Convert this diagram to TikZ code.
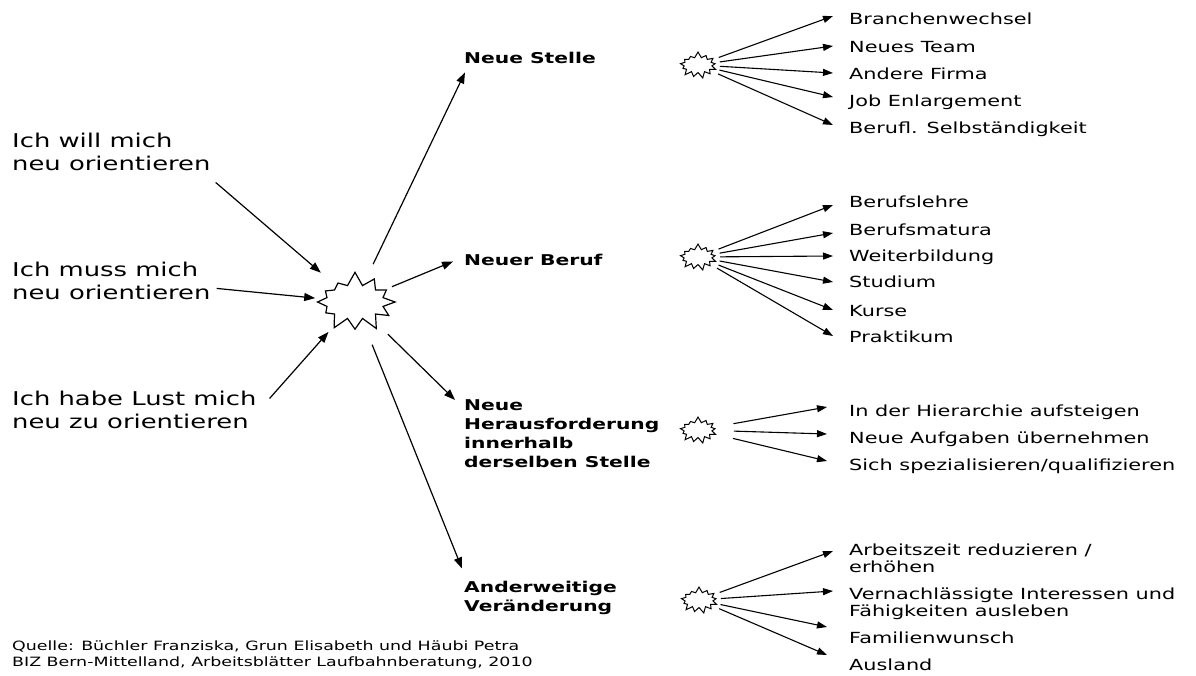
\documentclass[tikz,border=0pt]{standalone}
\usepackage{fontspec}
\setmainfont{DejaVu Sans}[FakeStretch=1.36]
\usetikzlibrary{arrows.meta,shapes.symbols}

\tikzset{
  pfeil/.style={-{Triangle[length=11pt,width=8pt]}, line width=1.2pt},
  klein/.style={-{Triangle[length=10pt,width=7pt]}, line width=1.1pt},
  frage/.style={anchor=base west, inner sep=0pt, align=left, font=\fontsize{19}{23}\selectfont},
  weg/.style={anchor=base west, inner sep=0pt, align=left, font=\fontsize{14.9}{19}\selectfont\bfseries},
  ziel/.style={anchor=base west, inner sep=0pt, align=left, font=\fontsize{15.3}{17}\selectfont},
  quelle/.style={anchor=base west, inner sep=0pt, align=left, font=\fontsize{12.8}{16}\selectfont},
  knall/.style={draw, shape=starburst, inner sep=0pt, starburst points=12,
    starburst point height=14pt, minimum width=86pt, minimum height=62pt,
    line width=1.2pt, random starburst=7},
  knallchen/.style={knall, starburst points=13, starburst point height=6pt,
    minimum width=40pt, minimum height=27pt, line width=1pt}
}

\begin{document}
\begin{tikzpicture}[x=1pt,y=-1pt]
  \useasboundingbox (0,0) rectangle (1196,675);

  % Ausgangslage (Anker = letzte Zeile)
  \node[frage] (will) at (12,170) {Ich will mich\\neu orientieren};
  \node[frage] (muss) at (12,299) {Ich muss mich\\neu orientieren};
  \node[frage] (lust) at (12,428) {Ich habe Lust mich\\neu zu orientieren};
  \node[knall] (burst) at (355,302) {};

  % Wege
  \node[weg] (stelle) at (464,63) {Neue Stelle};
  \node[weg] (beruf) at (464,265) {Neuer Beruf};
  \node[weg] (heraus) at (464,467) {Neue\\Herausforderung\\innerhalb\\derselben Stelle};
  \node[weg] (ander) at (464,611) {Anderweitige\\Veränderung};

  % kleine Sterne
  \node[knallchen] (k1) at (698,65) {};
  \node[knallchen] (k2) at (698,257) {};
  \node[knallchen] (k3) at (698,430) {};
  \node[knallchen] (k4) at (699,600) {};

  % Ziele
  \node[ziel] (a1) at (849,24) {Branchenwechsel};
  \node[ziel] (a2) at (849,52) {Neues Team};
  \node[ziel] (a3) at (849,79) {Andere Firma};
  \node[ziel] (a4) at (849,106) {Job Enlargement};
  \node[ziel] (a5) at (849,133) {Berufl. Selbständigkeit};

  \node[ziel] (b1) at (849,207) {Berufslehre};
  \node[ziel] (b2) at (849,235) {Berufsmatura};
  \node[ziel] (b3) at (849,261) {Weiterbildung};
  \node[ziel] (b4) at (849,287) {Studium};
  \node[ziel] (b5) at (849,316) {Kurse};
  \node[ziel] (b6) at (849,342) {Praktikum};

  \node[ziel] (c1) at (849,416) {In der Hierarchie aufsteigen};
  \node[ziel] (c2) at (849,443) {Neue Aufgaben übernehmen};
  \node[ziel] (c3) at (849,470) {Sich spezialisieren/qualifizieren};

  \node[ziel] (d1) at (849,572) {Arbeitszeit reduzieren /\\erhöhen};
  \node[ziel] (d2) at (849,616) {Vernachlässigte Interessen und\\Fähigkeiten ausleben};
  \node[ziel] (d3) at (849,643) {Familienwunsch};
  \node[ziel] (d4) at (849,670) {Ausland};

  % Quelle
  \node[quelle] (src) at (12,666) {Quelle: Büchler Franziska, Grun Elisabeth und Häubi Petra\\BIZ Bern-Mittelland, Arbeitsblätter Laufbahnberatung, 2010};

  % Pfeile zum Stern
  \draw[pfeil, shorten >=45pt] ([shift={(5,12)}]will.south east) -- (burst.center);
  \draw[pfeil, shorten >=40pt] ([shift={(6,8)}]muss.east) -- (burst.center);
  \draw[pfeil, shorten >=40pt] ([shift={(13,-11)}]lust.east) -- (burst.center);

  % Pfeile zu den Wegen
  \draw[pfeil, shorten <=42pt] (burst.center) -- ([shift={(1,9)}]stelle.south west);
  \draw[pfeil, shorten <=40pt] (burst.center) -- ([shift={(-11,2)}]beruf.west);
  \draw[pfeil, shorten <=46pt] (burst.center) -- ([shift={(-9,1)}]heraus.north west);
  \draw[pfeil, shorten <=46pt] (burst.center) -- ([shift={(-2,-12)}]ander.north west);

  % Verzweigungen
  \foreach \z/\dy in {a1/8, a2/6, a3/6, a4/9, a5/8}
    \draw[klein, shorten <=22pt] (k1.center) -- ([shift={(-16,-\dy)}]\z.base west);
  \foreach \z/\dy in {b1/2, b2/2, b3/5, b4/5, b5/6, b6/6}
    \draw[klein, shorten <=22pt] (k2.center) -- ([shift={(-16,-\dy)}]\z.base west);
  \foreach \z/\dy in {c1/9, c2/9, c3/9}
    \draw[klein, shorten <=36pt] (k3.center) -- ([shift={(-22,-\dy)}]\z.base west);
  \foreach \z/\dx/\dy in {d1/16/21, d2/16/25, d3/22/16, d4/22/15}
    \draw[klein, shorten <=22pt] (k4.center) -- ([shift={(-\dx,-\dy)}]\z.base west);
\end{tikzpicture}
\end{document}
